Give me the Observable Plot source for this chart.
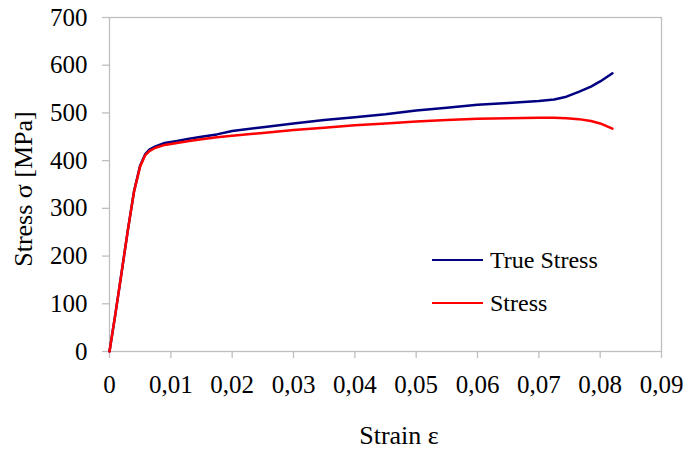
<!DOCTYPE html>
<html>
<head>
<meta charset="utf-8">
<script src="https://cdn.jsdelivr.net/npm/d3@7"></script>
<script src="https://cdn.jsdelivr.net/npm/@observablehq/plot@0.6"></script>
<style>
  html, body { margin: 0; padding: 0; background: #fff; }
  #wrap { position: relative; width: 686px; height: 449px; font-family: "Liberation Serif", "Times New Roman", serif; color: #000; }
  #wrap svg { position: absolute; left: 0; top: 0; font-family: "Liberation Serif", "Times New Roman", serif !important; }
  #wrap svg text { font-family: "Liberation Serif", "Times New Roman", serif !important; }
  .ttl { position: absolute; font-size: 26px; white-space: nowrap; line-height: 1; }
  .leg { position: absolute; font-size: 24px; white-space: nowrap; line-height: 1; display: flex; align-items: center; }
  .sw { display: inline-block; width: 51px; height: 2.5px; margin-right: 7px; }
</style>
</head>
<body>
<div id="wrap"></div>
<script>
// Strain values (x)
const strain = [0, 0.001, 0.002, 0.003, 0.004, 0.005, 0.0058, 0.0065, 0.0075, 0.009, 0.011, 0.013, 0.015, 0.0175, 0.02, 0.025, 0.03, 0.035, 0.04, 0.045, 0.05, 0.055, 0.06, 0.065, 0.07, 0.0725, 0.0745, 0.0765, 0.0785, 0.08, 0.082];
// Engineering stress [MPa]
const stress = [0, 82, 168, 255, 335, 388, 411, 420, 427, 433, 437, 441, 445, 449, 452, 458, 464, 469, 474, 478, 482, 485, 488, 489, 490, 490, 489, 487, 483, 478, 467];
// True stress [MPa]
const trueStress = [0, 82, 168, 255, 336, 390, 413, 423, 430, 437, 441, 446, 450, 455, 462, 470, 478, 485, 491, 497, 505, 511, 517, 521, 525, 528, 534, 544, 555, 566, 583];

const seriesNames = ["True Stress", "Stress"];
const seriesColors = ["#000080", "#ff0000"];

const xTickValues = [0, 0.01, 0.02, 0.03, 0.04, 0.05, 0.06, 0.07, 0.08, 0.09];
const xTickLabels = ["0", "0,01", "0,02", "0,03", "0,04", "0,05", "0,06", "0,07", "0,08", "0,09"];
const yTickValues = [0, 100, 200, 300, 400, 500, 600, 700];

const xTitle = "Strain ε";
const yTitle = "Stress σ [MPa]";

const trueRows = strain.map((s, i) => ({strain: s, value: trueStress[i]}));
const stressRows = strain.map((s, i) => ({strain: s, value: stress[i]}));

const gray = "#bfbfbf";
const serif = "Liberation Serif";

const chart = Plot.plot({
  width: 686,
  height: 449,
  marginLeft: 109,
  marginRight: 25,
  marginTop: 17,
  marginBottom: 98,
  style: {fontFamily: serif, fontSize: "25px", color: "#000", background: "transparent"},
  x: {domain: [0, 0.09]},
  y: {domain: [0, 700]},
  marks: [
    Plot.frame({stroke: gray, strokeWidth: 1.3}),
    Plot.axisX({ticks: xTickValues, tickFormat: (d) => xTickLabels[xTickValues.indexOf(d)], tickSize: 7, tickPadding: 17, stroke: gray, strokeWidth: 1.3, fill: "#000", label: null, fontSize: 25, fontFamily: serif}),
    Plot.axisY({ticks: yTickValues, tickSize: 7, tickPadding: 15, stroke: gray, strokeWidth: 1.3, fill: "#000", label: null, fontSize: 25, fontFamily: serif}),
    Plot.line(trueRows, {x: "strain", y: "value", stroke: seriesColors[0], strokeWidth: 2.5}),
    Plot.line(stressRows, {x: "strain", y: "value", stroke: seriesColors[1], strokeWidth: 2.5})
  ]
});

const wrap = document.getElementById("wrap");
wrap.appendChild(chart);

// Axis titles
const xt = document.createElement("div");
xt.className = "ttl";
xt.textContent = xTitle;
xt.style.left = "399px";
xt.style.top = "423px";
xt.style.transform = "translateX(-50%)";
wrap.appendChild(xt);

const yt = document.createElement("div");
yt.className = "ttl";
yt.textContent = yTitle;
yt.style.left = "24px";
yt.style.top = "189px";
yt.style.transform = "translate(-50%, -50%) rotate(-90deg)";
wrap.appendChild(yt);

// Legend
const legTops = [248, 291];
seriesNames.forEach((name, i) => {
  const row = document.createElement("div");
  row.className = "leg";
  row.style.left = "432px";
  row.style.top = legTops[i] + "px";
  const sw = document.createElement("span");
  sw.className = "sw";
  sw.style.background = seriesColors[i];
  const tx = document.createElement("span");
  tx.textContent = name;
  row.appendChild(sw);
  row.appendChild(tx);
  wrap.appendChild(row);
});
</script>
</body>
</html>
